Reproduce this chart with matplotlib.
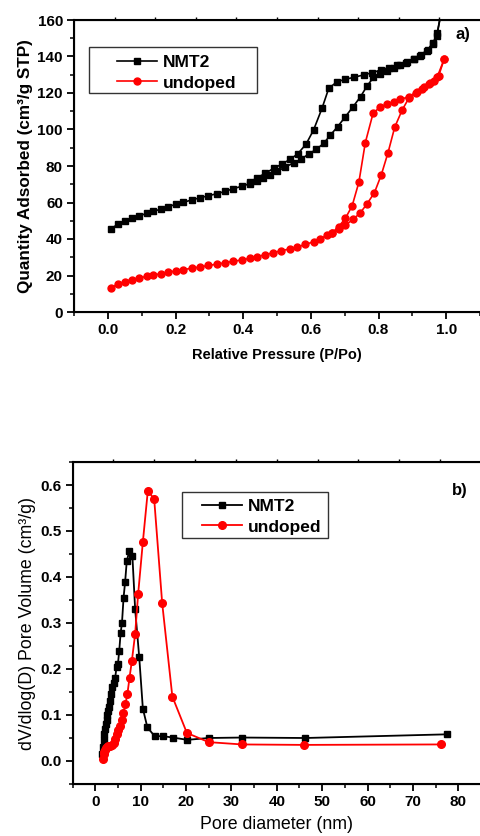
#!/bin/env python
# N2 sorption isotherms (a) and BJH pore size distribution (b) for NMT2 and undoped samples
import matplotlib
matplotlib.use('Agg')
import matplotlib.pyplot as plt
from matplotlib.patches import Rectangle
from matplotlib.ticker import MultipleLocator

plt.rcParams['font.family'] = ['Liberation Sans', 'DejaVu Sans']

# ---- panel a) isotherms, NMT2 ----
nmt2_ads_p = [0.01, 0.03, 0.05, 0.07, 0.093, 0.115, 0.134, 0.156, 0.179, 0.20, 0.223,
              0.248, 0.273, 0.297, 0.322, 0.347, 0.371, 0.396, 0.419, 0.44, 0.46, 0.48,
              0.50, 0.525, 0.55, 0.571, 0.594, 0.616, 0.638, 0.658, 0.679, 0.702, 0.725,
              0.747, 0.766, 0.785, 0.805, 0.825, 0.845, 0.865, 0.885, 0.905, 0.925, 0.945,
              0.96, 0.972, 0.985]
nmt2_ads_q = [45.6, 48.2, 49.9, 51.3, 52.6, 54.1, 55.2, 56.3, 57.7, 59.0, 60.1,
              61.4, 62.6, 63.7, 64.8, 66.1, 67.6, 68.9, 70.3, 72.0, 73.6, 75.2,
              77.0, 79.5, 81.8, 83.7, 86.6, 89.1, 92.4, 97.0, 101.5, 107.0, 112.5,
              118.0, 123.8, 128.5, 130.5, 132.3, 133.8, 135.3, 136.8, 138.7, 140.8, 143.8,
              147.0, 151.5, 164.0]
nmt2_des_p = [0.985, 0.974, 0.962, 0.944, 0.924, 0.905, 0.88, 0.855, 0.831, 0.806, 0.781,
              0.756, 0.727, 0.702, 0.678, 0.653, 0.633, 0.608, 0.586, 0.561, 0.539, 0.515,
              0.49, 0.465, 0.44, 0.42]
nmt2_des_q = [164.0, 152.7, 147.6, 143.2, 140.3, 138.5, 136.6, 135.3, 133.9, 132.6, 131.1,
              129.9, 128.6, 127.5, 126.2, 122.6, 111.6, 99.7, 92.0, 86.6, 83.7, 81.1,
              78.7, 76.0, 73.3, 71.2]

# ---- panel a) isotherms, undoped ----
und_ads_p = [0.01, 0.03, 0.05, 0.07, 0.093, 0.115, 0.134, 0.156, 0.179, 0.20, 0.223,
             0.248, 0.273, 0.297, 0.322, 0.347, 0.371, 0.396, 0.419, 0.44, 0.464, 0.489,
             0.513, 0.539, 0.559, 0.584, 0.608, 0.628, 0.648, 0.663, 0.682, 0.702, 0.725,
             0.745, 0.766, 0.788, 0.808, 0.828, 0.848, 0.87, 0.89, 0.91, 0.93, 0.95,
             0.965, 0.978, 0.994]
und_ads_q = [13.3, 15.3, 16.6, 17.8, 18.7, 19.5, 20.2, 21.0, 21.8, 22.5, 23.2,
             24.0, 24.7, 25.5, 26.2, 27.0, 27.8, 28.5, 29.4, 30.3, 31.3, 32.5,
             33.6, 34.6, 35.6, 37.0, 38.5, 40.2, 42.0, 43.3, 45.3, 47.5, 50.8,
             54.1, 59.2, 65.4, 75.0, 87.2, 101.3, 110.7, 117.3, 119.8, 122.3, 124.8,
             126.8, 129.5, 138.5]
und_des_p = [0.994, 0.974, 0.952, 0.934, 0.913, 0.89, 0.865, 0.845, 0.826, 0.804, 0.784,
             0.761, 0.742, 0.722, 0.702, 0.682, 0.663]
und_des_q = [138.5, 129.0, 125.3, 123.1, 120.7, 118.0, 116.5, 115.2, 114.0, 112.2, 108.9,
             92.8, 71.1, 58.1, 51.3, 46.7, 43.5]

# ---- panel b) pore size distribution ----
nmt2_d = [1.6, 1.75, 1.9, 2.05, 2.2, 2.35, 2.5, 2.7, 2.9, 3.1, 3.3, 3.55, 3.8, 4.1,
          4.4, 4.7, 5.0, 5.3, 5.6, 5.9, 6.25, 6.6, 6.95, 7.5, 8.2, 8.8, 9.7, 10.5,
          11.5, 13.1, 14.9, 17.1, 20.3, 25.0, 32.3, 46.3, 77.6]
nmt2_v = [0.015, 0.03, 0.045, 0.058, 0.07, 0.08, 0.09, 0.1, 0.108, 0.118, 0.13, 0.145,
          0.16, 0.17, 0.18, 0.205, 0.21, 0.24, 0.278, 0.3, 0.355, 0.39, 0.434, 0.456,
          0.445, 0.33, 0.226, 0.114, 0.073, 0.054, 0.054, 0.051, 0.046, 0.05, 0.051,
          0.05, 0.058]
und_d = [1.7, 1.84, 2.0, 2.2, 2.4, 2.6, 2.9, 3.3, 3.7, 4.04, 4.4, 4.77, 5.1, 5.5,
         5.88, 6.23, 6.67, 7.1, 7.56, 8.07, 8.8, 9.47, 10.5, 11.6, 13.0, 14.76, 17.0,
         20.2, 25.0, 32.3, 45.9, 76.2]
und_v = [0.004, 0.015, 0.02, 0.025, 0.028, 0.03, 0.032, 0.033, 0.035, 0.04, 0.047,
         0.058, 0.067, 0.076, 0.089, 0.105, 0.124, 0.146, 0.181, 0.217, 0.276, 0.364,
         0.476, 0.588, 0.569, 0.343, 0.14, 0.061, 0.041, 0.036, 0.035, 0.036]


def StyleAxes(ax):
    """Origin-like frame: thick spines, outward ticks, small marks along the top."""
    for side in ['left', 'bottom', 'top']:
        ax.spines[side].set_linewidth(1.5)
    ax.spines['right'].set_visible(False)
    ax.tick_params(which='major', direction='out', length=5, width=1.3,
                   labelsize=11, pad=3, top=False, right=False)
    ax.tick_params(which='minor', direction='out', length=3, width=1.1,
                   top=False, right=False)
    for lab in ax.get_xticklabels() + ax.get_yticklabels():
        lab.set_fontweight('bold')
    top = ax.twiny()
    top.set_xlim(0, 1)
    top.set_xticks([0.1, 0.2, 0.3, 0.4, 0.5, 0.6, 0.7, 0.8, 0.9])
    top.tick_params(direction='out', length=2, width=1.0, labeltop=False)
    top.spines['right'].set_visible(False)


def BoxedLegend(ax, box, anchor):
    """Legend without its own frame, plus a separate rectangle for the Origin-style box."""
    leg = ax.legend(loc='upper left', bbox_to_anchor=anchor, frameon=False,
                    prop={'weight': 'bold', 'size': 12.5}, handlelength=2.3,
                    borderpad=0, labelspacing=0.3, handletextpad=0.35,
                    borderaxespad=0)
    ax.add_patch(Rectangle((box[0], box[1]), box[2] - box[0], box[3] - box[1],
                           transform=ax.transAxes, fill=True, facecolor='white',
                           edgecolor='#333333', linewidth=1.0, zorder=4))
    leg.set_zorder(5)
    return leg


fig = plt.figure(figsize=(4.8, 8.36), dpi=100)

# panel a
ax1 = fig.add_axes([74 / 480, 524 / 836, 406 / 480, 292 / 836])
ax1.plot(nmt2_ads_p, nmt2_ads_q, color='black', marker='s', markersize=4.3,
         linewidth=1.2, label='NMT2')
ax1.plot(nmt2_des_p, nmt2_des_q, color='black', marker='s', markersize=4.3,
         linewidth=1.2)
ax1.plot(und_ads_p, und_ads_q, color='red', marker='o', markersize=5,
         linewidth=1.2, label='undoped')
ax1.plot(und_des_p, und_des_q, color='red', marker='o', markersize=5,
         linewidth=1.2)
ax1.set_xlim(-0.1, 1.1)
ax1.set_ylim(0, 160)
ax1.xaxis.set_major_locator(MultipleLocator(0.2))
ax1.xaxis.set_minor_locator(MultipleLocator(0.1))
ax1.yaxis.set_major_locator(MultipleLocator(20))
ax1.yaxis.set_minor_locator(MultipleLocator(10))
ax1.set_xticks([0.0, 0.2, 0.4, 0.6, 0.8, 1.0])
ax1.set_xlabel('Relative Pressure (P/Po)', fontsize=10.5, fontweight='bold', labelpad=8)
ax1.set_ylabel('Quantity Adsorbed (cm³/g STP)', fontsize=12.3, fontweight='bold',
               labelpad=3)
StyleAxes(ax1)
BoxedLegend(ax1, (0.037, 0.75, 0.451, 0.9075), (0.106, 0.88))
ax1.text(0.958, 0.952, 'a)', transform=ax1.transAxes, fontsize=12, fontweight='bold',
         ha='center', va='center')

# panel b
ax2 = fig.add_axes([72.5 / 480, 52 / 836, 408.5 / 480, 322 / 836])
ax2.plot(nmt2_d, nmt2_v, color='black', marker='s', markersize=4.8,
         linewidth=1.3, label='NMT2')
ax2.plot(und_d, und_v, color='red', marker='o', markersize=5.5,
         linewidth=1.3, label='undoped')
ax2.set_xlim(-5, 85)
ax2.set_ylim(-0.05, 0.65)
ax2.xaxis.set_major_locator(MultipleLocator(10))
ax2.xaxis.set_minor_locator(MultipleLocator(5))
ax2.yaxis.set_major_locator(MultipleLocator(0.1))
ax2.yaxis.set_minor_locator(MultipleLocator(0.05))
ax2.set_xticks(range(0, 90, 10))
ax2.set_yticks([0.0, 0.1, 0.2, 0.3, 0.4, 0.5, 0.6])
ax2.set_xlabel('Pore diameter (nm)', fontsize=12.8, labelpad=5)
ax2.set_ylabel('dV/dlog(D) Pore Volume (cm³/g)', fontsize=12.8, labelpad=3)
StyleAxes(ax2)
BoxedLegend(ax2, (0.268, 0.764, 0.6255, 0.907), (0.317, 0.885))
ax2.text(0.949, 0.91, 'b)', transform=ax2.transAxes, fontsize=12, fontweight='bold',
         ha='center', va='center')

fig.savefig('out.png', dpi=100)
plt.close()
